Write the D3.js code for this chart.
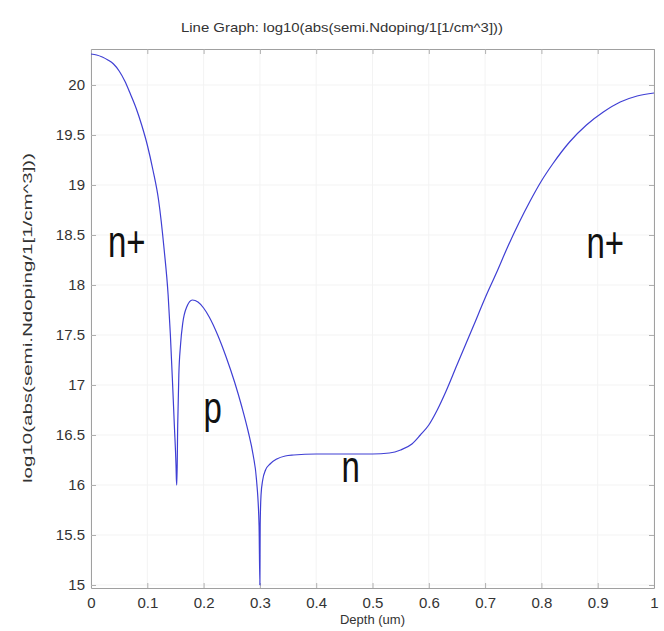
<!DOCTYPE html>
<html>
<head>
<meta charset="utf-8">
<script src="https://cdnjs.cloudflare.com/ajax/libs/d3/7.8.5/d3.min.js"></script>
<style>
  body { margin: 0; background: #fff; }
  text { font-family: "Liberation Sans", Arial, sans-serif; }
</style>
</head>
<body>
<div id="content"></div>
<script>
// Doping profile
var depth = [0, 0.01, 0.02, 0.03, 0.04, 0.05, 0.06, 0.07, 0.08, 0.09, 0.10, 0.11, 0.12, 0.13, 0.137,
             0.141, 0.145, 0.148, 0.151, 0.152,
             0.1525, 0.154, 0.156, 0.159, 0.163, 0.170, 0.180, 0.190, 0.200, 0.210, 0.225, 0.240, 0.255,
             0.268, 0.279, 0.288, 0.294, 0.2985, 0.300, 0.3005, 0.302, 0.305, 0.310, 0.318, 0.330, 0.345,
             0.360, 0.400, 0.450, 0.500, 0.530, 0.550, 0.570, 0.585, 0.600, 0.615, 0.630, 0.650, 0.680,
             0.700, 0.720, 0.740, 0.760, 0.780, 0.800, 0.820, 0.850, 0.880, 0.910, 0.940, 0.970, 1.0];
var ndop = [20.31, 20.30, 20.28, 20.25, 20.21, 20.14, 20.04, 19.91, 19.77, 19.60, 19.40, 19.15, 18.85,
            18.35, 17.9, 17.5, 17.0, 16.6, 16.2, 16.0,
            16.0, 16.6, 17.1, 17.4, 17.62, 17.78, 17.85, 17.83, 17.77, 17.68, 17.5, 17.28, 17.03,
            16.78, 16.54, 16.3, 16.05, 15.6, 15.0, 15.6, 15.9, 16.05, 16.15, 16.21, 16.26, 16.29,
            16.3, 16.31, 16.31, 16.31, 16.32, 16.35, 16.41, 16.5, 16.6, 16.75, 16.93, 17.2, 17.6,
            17.87, 18.12, 18.38, 18.62, 18.84, 19.04, 19.21, 19.43, 19.6, 19.73, 19.83, 19.89, 19.92];

var xTicks = [0, 0.1, 0.2, 0.3, 0.4, 0.5, 0.6, 0.7, 0.8, 0.9, 1];
var yTicks = [15, 15.5, 16, 16.5, 17, 17.5, 18, 18.5, 19, 19.5, 20];

var regionLabels = ["n+", "p", "n", "n+"];
var regionX = [0.03, 0.2, 0.445, 0.88];
var regionY = [18.28, 16.62, 16.03, 18.27];

var titleText = "Line Graph: log10(abs(semi.Ndoping/1[1/cm^3]))";
var xLabel = "Depth (um)";
var yLabel = "log10(abs(semi.Ndoping/1[1/cm^3]))";

var w = 664,
    h = 631,
    pLeft = 91,
    pRight = 654,
    pTop = 49,
    pBottom = 588;

var x = d3.scaleLinear().domain([0, 1]).range([pLeft, pRight]);
var y = d3.scaleLinear().domain([14.97, 20.36]).range([pBottom, pTop]);

var svg = d3.select("#content")
    .append("svg")
    .attr("width", w)
    .attr("height", h);

// faint grid
svg.append("g")
    .selectAll("line")
    .data(xTicks)
    .enter().append("line")
    .attr("x1", function(d) { return x(d); })
    .attr("x2", function(d) { return x(d); })
    .attr("y1", pTop).attr("y2", pBottom)
    .attr("stroke", "#f3f3f3");
svg.append("g")
    .selectAll("line")
    .data(yTicks)
    .enter().append("line")
    .attr("y1", function(d) { return y(d); })
    .attr("y2", function(d) { return y(d); })
    .attr("x1", pLeft).attr("x2", pRight)
    .attr("stroke", "#f3f3f3");

// axes on all four sides, ticks pointing in
function styleAxis(g) {
    g.select(".domain").attr("stroke", "#a0a0a0");
    g.selectAll(".tick line").attr("stroke", "#b0b0b0");
    g.selectAll(".tick text").attr("fill", "#333").style("font-size", "15px");
}

svg.append("g")
    .attr("transform", "translate(0," + pBottom + ")")
    .call(d3.axisBottom(x).tickValues(xTicks).tickSizeInner(-5).tickSizeOuter(0).tickPadding(9)
        .tickFormat(function(d) { return d3.format("")(d); }))
    .call(styleAxis);
svg.append("g")
    .attr("transform", "translate(" + pLeft + ",0)")
    .call(d3.axisLeft(y).tickValues(yTicks).tickSizeInner(-5).tickSizeOuter(0).tickPadding(6)
        .tickFormat(function(d) { return d3.format("")(d); }))
    .call(styleAxis);
svg.append("g")
    .attr("transform", "translate(0," + pTop + ")")
    .call(d3.axisTop(x).tickValues(xTicks).tickSizeInner(-5).tickSizeOuter(0).tickFormat(""))
    .call(styleAxis);
svg.append("g")
    .attr("transform", "translate(" + pRight + ",0)")
    .call(d3.axisRight(y).tickValues(yTicks).tickSizeInner(-5).tickSizeOuter(0).tickFormat(""))
    .call(styleAxis);

// the curve
var line = d3.line()
    .x(function(d) { return x(d[0]); })
    .y(function(d) { return y(d[1]); })
    .curve(d3.curveMonotoneX);

svg.append("path")
    .datum(d3.zip(depth, ndop))
    .attr("d", line)
    .attr("fill", "none")
    .attr("stroke", "#3f3fd4")
    .attr("stroke-width", 1.2);

// region labels, squeezed like the original
svg.selectAll("text.region")
    .data(regionLabels)
    .enter().append("text")
    .attr("class", "region")
    .attr("transform", function(d, i) {
        return "translate(" + x(regionX[i]) + "," + y(regionY[i]) + ") scale(0.75,1)";
    })
    .style("font-size", "44px")
    .attr("fill", "#111")
    .text(function(d) { return d; });

// title and axis titles
svg.append("text")
    .attr("x", 342).attr("y", 32)
    .attr("text-anchor", "middle")
    .attr("textLength", 322)
    .attr("lengthAdjust", "spacingAndGlyphs")
    .style("font-size", "13px")
    .attr("fill", "#333")
    .text(titleText);

svg.append("text")
    .attr("x", x(0.5)).attr("y", 624)
    .attr("text-anchor", "middle")
    .style("font-size", "13px")
    .attr("fill", "#333")
    .text(xLabel);

svg.append("text")
    .attr("transform", "translate(32,318) rotate(-90)")
    .attr("text-anchor", "middle")
    .attr("textLength", 330)
    .attr("lengthAdjust", "spacingAndGlyphs")
    .style("font-size", "13px")
    .attr("fill", "#333")
    .text(yLabel);
</script>
</body>
</html>
